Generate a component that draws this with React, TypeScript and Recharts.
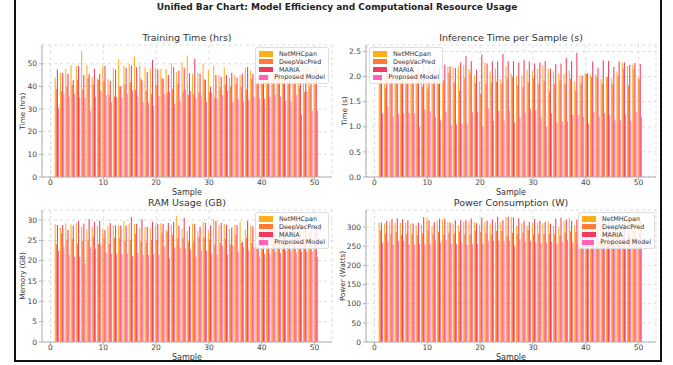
import React from 'react';
import { Bar, BarChart, CartesianGrid, XAxis, YAxis } from 'recharts';

// sample index (categories)
const samples = [
  1, 2, 3, 4, 5, 6, 7, 8, 9, 10, 11, 12, 13, 14, 15, 16, 17, 18, 19, 20, 21, 22, 23, 24, 25,
  26, 27, 28, 29, 30, 31, 32, 33, 34, 35, 36, 37, 38, 39, 40, 41, 42, 43, 44, 45, 46, 47, 48, 49, 50
];

const seriesNames = ['NetMHCpan', 'DeepVacPred', 'MARIA', 'Proposed Model'];
const seriesColors = ['#ffae1a', '#ff7a35', '#f03a5f', '#ff62b8'];

const xTicks = [0, 10, 20, 30, 40, 50];

// Training time (hrs)
const trainNet = [43.8, 46, 47.8, 49.5, 49, 55.8, 49.5, 44.3, 43.5, 49, 43.2, 48, 52, 49, 50, 53.2, 49.2, 48.5, 48, 48.1, 47.8, 47.7, 50.2, 46.5, 50.6, 53.5, 45.5, 46.2, 50.1, 47.2, 49.2, 45, 48.5, 43.8, 45.2, 45, 48.3, 47, 45, 46, 44, 47, 48, 45, 47, 48, 42, 46, 49.7, 47.8];
const trainDeep = [39, 38, 40, 40.7, 43, 38.5, 43.7, 40.8, 43, 42.3, 36.2, 35.5, 40, 41, 41.8, 38.5, 43.5, 38, 36.7, 40.6, 43.5, 37.2, 38.8, 41.2, 37.8, 36.2, 36.5, 37.3, 43.2, 37.5, 35, 39.8, 40.8, 40, 41, 39.7, 38.6, 43.4, 41, 41.8, 42, 43, 43.5, 42.5, 42.6, 41.5, 40.1, 37.5, 40.2, 43.5];
const trainMaria = [47.5, 46, 45.5, 42.8, 49, 45, 45.4, 47.8, 45.5, 49, 42.4, 47.5, 40, 48.2, 49.3, 48.5, 42.7, 46.3, 51.7, 47.5, 43.5, 45, 48.5, 47, 48.2, 45.8, 52.1, 45.7, 42.9, 39.8, 45, 44.3, 45, 46, 43.9, 45.6, 48.6, 45.5, 44, 43, 45.5, 44.7, 46, 44, 45.5, 44.5, 41.2, 48.5, 46.5, 47.5];
const trainProp = [30.5, 36.7, 35.4, 36.8, 35.2, 35, 29.3, 35.5, 38, 36, 33, 35.2, 35, 36.7, 38.2, 35.7, 33, 33, 31.5, 36, 36.7, 37.5, 32.3, 33.8, 38.8, 38, 34.7, 36, 33.2, 37, 34.6, 36.3, 38, 33.2, 34.5, 33.2, 34.1, 35.4, 34.8, 34.6, 35.4, 36.2, 35.5, 33.6, 33.6, 36.3, 27.5, 38, 29.3, 29.3];

// Inference time per sample (s)
const infNet = [2.02, 1.98, 2.05, 1.96, 2.08, 2.03, 1.95, 2.06, 1.99, 2.04, 2.1, 2.01, 2.24, 2.2, 2.18, 2.2, 2.23, 2.15, 2.02, 1.91, 2.28, 2.1, 2.16, 1.95, 2.21, 2.06, 2.01, 2.02, 2.13, 2.11, 2.15, 2.23, 2.16, 2.11, 2.06, 2.06, 2.12, 1.91, 2.02, 2.07, 2.04, 2.05, 1.96, 1.99, 1.97, 2.1, 2.28, 2.21, 2.24, 1.98];
const infDeep = [1.95, 1.78, 1.93, 1.86, 1.93, 1.96, 1.86, 1.9, 1.8, 1.76, 1.93, 1.96, 1.93, 2.07, 1.88, 1.72, 1.97, 2.08, 1.87, 1.65, 1.86, 1.87, 1.9, 1.86, 1.97, 1.99, 1.83, 1.79, 1.89, 1.97, 1.86, 1.92, 1.71, 1.86, 1.93, 1.86, 1.96, 1.73, 1.87, 2.05, 1.99, 1.99, 1.87, 1.99, 1.86, 2.02, 2.16, 1.83, 2.15, 1.96];
const infMaria = [2.1, 2.12, 2.2, 2.18, 2.22, 2.3, 2.2, 2.15, 2.24, 2.2, 2.22, 2.2, 2.24, 2.2, 2.17, 2.28, 2.41, 2.31, 2.14, 2.44, 2.26, 2.3, 2.3, 2.45, 2.31, 2.31, 2.28, 2.33, 2.3, 2.26, 2.28, 2.31, 2.16, 2.25, 2.26, 2.37, 2.31, 2.47, 2.02, 2.06, 2.3, 2.17, 2.32, 2.31, 2.19, 2.3, 2.28, 2.23, 2.27, 2.25];
const infProp = [1.27, 1.4, 1.2, 1.25, 1.27, 1.28, 1.27, 1.0, 1.35, 1.31, 1.2, 1.13, 1.3, 1.03, 1.05, 1.06, 1.06, 1.29, 1.3, 1.0, 1.37, 1.12, 1.32, 1.13, 1.32, 1.09, 1.19, 1.28, 1.36, 1.33, 1.19, 1.0, 1.27, 1.09, 1.11, 1.11, 1.24, 1.24, 1.2, 1.07, 1.29, 1.2, 1.27, 1.23, 1.13, 1.13, 1.25, 1.12, 1.3, 1.19];

// RAM usage (GB)
const ramNet = [29, 28.2, 29.3, 28.9, 29.3, 28.3, 27.7, 28.4, 28.6, 27.7, 28.7, 28.7, 28.7, 29.8, 29.2, 29.1, 28.1, 28.3, 28.1, 28.8, 29.3, 27.6, 28.8, 31, 27.9, 27.3, 29.1, 27.3, 29.6, 27.4, 30.3, 28.8, 29.1, 27.9, 28.8, 29.6, 27.7, 28.7, 27.5, 28.5, 28, 28.3, 27.8, 28.7, 28.1, 28.4, 27.9, 28.5, 28.6, 27.5];
const ramDeep = [24, 26.8, 25.2, 25.4, 24.2, 24.9, 25.1, 25.9, 24.2, 25.6, 24.2, 25.6, 25.7, 24.9, 25.2, 26.6, 24.7, 24.5, 25.1, 25.2, 26.9, 27.2, 26.4, 25.6, 25.5, 24.7, 24.7, 25.9, 25.7, 25.3, 24, 24.4, 25.5, 24, 26.4, 24.4, 25.7, 24.4, 24.3, 25.6, 24.5, 24, 25.4, 25.6, 24.8, 25, 24.6, 25.7, 26.5, 26.6];
const ramMaria = [28.8, 28.8, 27.6, 28.7, 29.8, 29.2, 30.2, 29.6, 29.8, 27.6, 29.3, 28.7, 28.7, 28.6, 30.7, 29.1, 30.2, 28.3, 29.6, 29.1, 29.1, 29.3, 29.6, 28.6, 30.6, 28.5, 29.1, 28.4, 29.3, 28.7, 29.8, 29.3, 28.9, 28.2, 28.8, 24.6, 29.8, 28.5, 27.5, 28.2, 28.9, 28.6, 29, 28, 28.7, 28.3, 28.9, 28.5, 28.5, 28.5];
const ramProp = [22.5, 23.4, 21.4, 21, 21, 19.3, 23.4, 23, 24, 22, 21.7, 21.7, 21.7, 21.7, 21.2, 21.9, 21.4, 21.5, 21.6, 21.5, 23.6, 20.6, 23.2, 23.2, 23, 22.8, 21, 22.4, 22.5, 21.7, 21.5, 23.7, 21.5, 23.7, 22.2, 23.3, 22.6, 23.3, 21, 21.7, 21.7, 22.3, 21.9, 22.5, 22.5, 22, 22.2, 22.3, 22.3, 21];

// Power consumption (W)
const powNet = [312, 310, 314, 311, 311, 311, 309, 304, 306, 322, 303, 317, 320, 313, 310, 304, 314, 316, 313, 305, 313, 307, 312, 313, 327, 326, 305, 310, 305, 310, 311, 309, 315, 303, 301, 316, 324, 305, 308, 312, 305, 316, 310, 304, 318, 311, 307, 314, 309, 312];
const powDeep = [291, 283, 282, 287, 280, 282, 282, 279, 283, 291, 282, 288, 279, 285, 283, 288, 281, 280, 291, 288, 284, 279, 290, 290, 278, 285, 282, 285, 293, 281, 282, 282, 282, 282, 278, 286, 289, 287, 284, 288, 281, 286, 283, 289, 282, 287, 284, 280, 290, 285];
const powMaria = [312, 316, 321, 323, 321, 318, 309, 312, 326, 318, 313, 322, 322, 312, 318, 318, 318, 322, 310, 324, 317, 320, 327, 318, 327, 325, 323, 316, 313, 321, 316, 314, 309, 322, 324, 320, 316, 320, 318, 315, 320, 312, 322, 317, 313, 325, 319, 316, 321, 318];
const powProp = [259, 262, 253, 264, 264, 255, 255, 255, 255, 255, 265, 260, 267, 255, 256, 259, 254, 255, 256, 256, 264, 265, 264, 263, 265, 251, 268, 262, 264, 260, 257, 260, 262, 257, 262, 267, 260, 257, 258, 262, 256, 264, 259, 255, 261, 258, 266, 256, 263, 257];

const FONT = '"DejaVu Sans", sans-serif';
const PW = 290;
const PH = 132;
// matplotlib draws the 4 bars starting at the sample position, so the group centre sits right of the tick
const GROUP_SHIFT = 0.3;
const KEYS = ['net', 'deep', 'maria', 'prop'];

const buildRows = (series: number[][]) =>
  samples.map((s, i) => ({
    x: s + GROUP_SHIFT,
    net: series[0][i],
    deep: series[1][i],
    maria: series[2][i],
    prop: series[3][i]
  }));

const tickStyle = { fontSize: 7.5, fill: '#444', fontFamily: FONT };

interface LegendProps {
  left: number;
  top: number;
  width: number;
}

const LegendBox: React.FC<LegendProps> = ({ left, top, width }) => (
  <div
    style={{
      position: 'absolute',
      left,
      top,
      width,
      boxSizing: 'border-box',
      padding: '2px 3px',
      background: 'rgba(255,255,255,0.85)',
      border: '1px solid #dedede',
      borderRadius: 2,
      fontFamily: FONT,
      fontSize: 6.4,
      color: '#333'
    }}
  >
    {seriesNames.map((n, i) => (
      <div key={n} style={{ display: 'flex', alignItems: 'center', height: 7.8 }}>
        <span style={{ width: 14, height: 5.5, background: seriesColors[i], marginRight: 6 }} />
        <span style={{ whiteSpace: 'nowrap' }}>{n}</span>
      </div>
    ))}
  </div>
);

interface PanelProps {
  title: string;
  yLabel: string;
  rows: ReturnType<typeof buildRows>;
  yMax: number;
  yTicks: number[];
  left: number;
  top: number;
  labelX: number;
  legend: LegendProps;
  fmt?: (v: number) => string;
}

const Panel: React.FC<PanelProps> = ({ title, yLabel, rows, yMax, yTicks, left, top, labelX, legend, fmt }) => (
  <>
    <div
      style={{
        position: 'absolute',
        left: left + PW / 2,
        top: top - 8,
        transform: 'translate(-50%, -50%)',
        fontFamily: FONT,
        fontSize: 9.5,
        color: '#333',
        whiteSpace: 'nowrap'
      }}
    >
      {title}
    </div>
    <div style={{ position: 'absolute', left: left - 40, top: top - 20 }}>
      <BarChart
        width={PW + 50}
        height={PH + 40}
        data={rows}
        margin={{ top: 20, right: 10, bottom: 0, left: 0 }}
        barGap={0}
        barSize={1.1}
      >
        <CartesianGrid strokeDasharray="3 3" stroke="#dcdcdc" />
        <XAxis
          type="number"
          dataKey="x"
          domain={[-1.6, 53.3]}
          ticks={xTicks}
          interval={0}
          height={20}
          tick={tickStyle}
          tickSize={3}
          tickMargin={0}
          stroke="#b0b0b0"
        />
        <YAxis
          type="number"
          domain={[0, yMax]}
          ticks={yTicks}
          interval={0}
          width={40}
          tick={tickStyle}
          tickSize={3}
          tickMargin={2}
          stroke="#b0b0b0"
          tickFormatter={fmt}
        />
        {KEYS.map((k, i) => (
          <Bar key={k} dataKey={k} fill={seriesColors[i]} fillOpacity={0.95} isAnimationActive={false} />
        ))}
      </BarChart>
    </div>
    <div
      style={{
        position: 'absolute',
        left: left + PW / 2,
        top: top + PH + 15,
        transform: 'translate(-50%, -50%)',
        fontFamily: FONT,
        fontSize: 8,
        color: '#333'
      }}
    >
      Sample
    </div>
    <div
      style={{
        position: 'absolute',
        left: labelX,
        top: top + PH / 2,
        transform: 'translate(-50%, -50%) rotate(-90deg)',
        fontFamily: FONT,
        fontSize: 7.2,
        color: '#333',
        whiteSpace: 'nowrap'
      }}
    >
      {yLabel}
    </div>
    <LegendBox {...legend} />
  </>
);

const App: React.FC = () => {
  return (
    <div
      style={{
        position: 'absolute',
        left: 0,
        top: 0,
        width: 673,
        height: 365,
        background: '#fff',
        overflow: 'hidden'
      }}
    >
      <div
        style={{
          position: 'absolute',
          left: 14,
          top: -4,
          width: 648,
          height: 366,
          boxSizing: 'border-box',
          border: '2px solid #111'
        }}
      />
      <div
        style={{
          position: 'absolute',
          left: 337,
          top: 7,
          transform: 'translate(-50%, -50%)',
          fontFamily: FONT,
          fontWeight: 'bold',
          fontSize: 9,
          color: '#222',
          whiteSpace: 'nowrap'
        }}
      >
        Unified Bar Chart: Model Efficiency and Computational Resource Usage
      </div>
      <Panel
        title="Training Time (hrs)"
        yLabel="Time (hrs)"
        rows={buildRows([trainNet, trainDeep, trainMaria, trainProp])}
        yMax={58.3}
        yTicks={[0, 10, 20, 30, 40, 50]}
        left={42}
        top={45}
        labelX={22}
        legend={{ left: 255, top: 47, width: 74 }}
      />
      <Panel
        title="Inference Time per Sample (s)"
        yLabel="Time (s)"
        rows={buildRows([infNet, infDeep, infMaria, infProp])}
        yMax={2.63}
        yTicks={[0, 0.5, 1, 1.5, 2, 2.5]}
        left={366}
        top={45}
        labelX={344}
        legend={{ left: 369, top: 47, width: 74 }}
        fmt={(v: number) => v.toFixed(1)}
      />
      <Panel
        title="RAM Usage (GB)"
        yLabel="Memory (GB)"
        rows={buildRows([ramNet, ramDeep, ramMaria, ramProp])}
        yMax={32.5}
        yTicks={[0, 5, 10, 15, 20, 25, 30]}
        left={42}
        top={210}
        labelX={22}
        legend={{ left: 255, top: 212, width: 74 }}
      />
      <Panel
        title="Power Consumption (W)"
        yLabel="Power (Watts)"
        rows={buildRows([powNet, powDeep, powMaria, powProp])}
        yMax={344.5}
        yTicks={[0, 50, 100, 150, 200, 250, 300]}
        left={366}
        top={210}
        labelX={342}
        legend={{ left: 578, top: 212, width: 77 }}
      />
    </div>
  );
};

export default App;
